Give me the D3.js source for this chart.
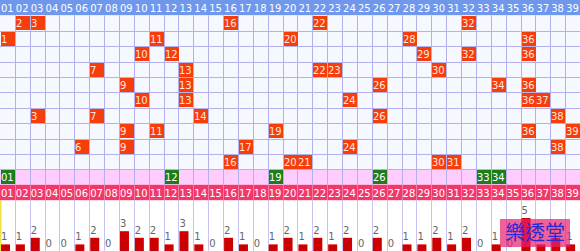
<!DOCTYPE html>
<html lang="zh-Hant">
<head>
<meta charset="utf-8">
<title>樂透堂 走勢圖</title>
<script src="https://d3js.org/d3.v7.min.js"></script>
<style>
  body { margin: 0; background: #fff; }
  svg { display: block; font-family: "DejaVu Sans", Verdana, sans-serif; }
</style>
</head>
<body>
<script>
// column labels 01..39
var labels = ["01","02","03","04","05","06","07","08","09","10","11","12","13",
  "14","15","16","17","18","19","20","21","22","23","24","25","26",
  "27","28","29","30","31","32","33","34","35","36","37","38","39"];

// each draw (one row of the grid)
var draws = [
  [2, 3, 16, 22, 32],
  [1, 11, 20, 28, 36],
  [10, 12, 29, 32, 36],
  [7, 13, 22, 23, 30],
  [9, 13, 26, 34, 36],
  [10, 13, 24, 36, 37],
  [3, 7, 14, 26, 38],
  [9, 11, 19, 36, 39],
  [6, 9, 17, 24, 38],
  [16, 20, 21, 30, 31]
];

// green row
var picks = [1, 12, 19, 26, 33, 34];

// counts under the bottom header
var counts = [1,1,2,0,0,1,2,0,3,2,2,1,3,1,0,2,1,0,1,2,1,2,1,2,0,2,0,1,1,2,1,2,0,1,0,5,1,2,1];

var w = 580, h = 251;
var rowH = 15.4;

var svg = d3.select("body").append("svg")
  .attr("width", w)
  .attr("height", h);

var x = d3.scaleBand()
  .domain(labels)
  .range([0, w]);
var cw = x.bandwidth();

// rows: header, 10 draws, pick row, bottom header
var rowKeys = ["head"].concat(draws.map(function(d, i) { return "d" + i; }), ["pick", "foot"]);
var y = d3.scaleBand()
  .domain(rowKeys)
  .range([0, rowH * rowKeys.length]);

var gridTop = y("d0"), gridBottom = y("pick") + y.bandwidth();
var barTop = y("foot") + y.bandwidth();

// bar scale
var yBar = d3.scaleLinear()
  .domain([0, 5])
  .range([h, h - 33]);

function lab(n) { return labels[n - 1]; }

// backgrounds
svg.append("rect").attr("x", 0).attr("y", y("head")).attr("width", w).attr("height", y.bandwidth())
  .attr("fill", "#6f98ec");
svg.append("rect").attr("x", 0).attr("y", gridTop).attr("width", w).attr("height", y("pick") - gridTop)
  .attr("fill", "#f6f8ff");
svg.append("rect").attr("x", 0).attr("y", y("pick")).attr("width", w).attr("height", y.bandwidth())
  .attr("fill", "#ffccff");
svg.append("rect").attr("x", 0).attr("y", y("foot")).attr("width", w).attr("height", y.bandwidth())
  .attr("fill", "#f2386a");

// grid lines
var grid = svg.append("g").attr("stroke", "#b4b0ea").attr("stroke-width", 1);
grid.selectAll("line.v")
  .data(labels.slice(1))
  .enter().append("line")
  .attr("x1", function(d) { return Math.round(x(d)) + 0.5; })
  .attr("x2", function(d) { return Math.round(x(d)) + 0.5; })
  .attr("y1", gridTop)
  .attr("y2", gridBottom);
grid.selectAll("line.h")
  .data(rowKeys.slice(2, 12))
  .enter().append("line")
  .attr("x1", 0).attr("x2", w)
  .attr("y1", function(d) { return Math.round(y(d)) + 0.5; })
  .attr("y2", function(d) { return Math.round(y(d)) + 0.5; });

// light separators in the bottom header and bar area
svg.append("g").attr("stroke", "#f47aa0").selectAll("line")
  .data(labels.slice(1))
  .enter().append("line")
  .attr("x1", function(d) { return Math.round(x(d)) + 0.5; })
  .attr("x2", function(d) { return Math.round(x(d)) + 0.5; })
  .attr("y1", y("foot")).attr("y2", barTop);
svg.append("g").attr("stroke", "#c8c4f2").selectAll("line")
  .data(labels.slice(1))
  .enter().append("line")
  .attr("x1", function(d) { return Math.round(x(d)) + 0.5; })
  .attr("x2", function(d) { return Math.round(x(d)) + 0.5; })
  .attr("y1", barTop).attr("y2", h);
svg.append("line").attr("x1", 0.75).attr("x2", 0.75).attr("y1", barTop).attr("y2", h)
  .attr("stroke", "#f2e040").attr("stroke-width", 1.5);

// header labels
function headerText(row, color) {
  svg.append("g").selectAll("text")
    .data(labels)
    .enter().append("text")
    .attr("x", function(d) { return x(d) + 1; })
    .attr("y", y(row) + y.bandwidth() / 2 + 4)
    .attr("font-size", 10)
    .attr("fill", color)
    .text(function(d) { return d; });
}
headerText("head", "#ffffff");
headerText("foot", "#ffffff");

// drawn number cells
var cells = [];
draws.forEach(function(row, i) {
  row.forEach(function(n) { cells.push({ row: "d" + i, n: n }); });
});
var cg = svg.append("g").selectAll("g")
  .data(cells)
  .enter().append("g")
  .attr("transform", function(d) { return "translate(" + (Math.round(x(lab(d.n))) + 1) + "," + (Math.round(y(d.row)) + 1) + ")"; });
cg.append("rect")
  .attr("width", Math.round(cw) - 1)
  .attr("height", Math.round(y.bandwidth()) - 1)
  .attr("fill", "#f63d0c");
cg.append("text")
  .attr("x", 0)
  .attr("y", y.bandwidth() / 2 + 3.5)
  .attr("font-size", 10)
  .attr("fill", "#ffe6dc")
  .text(function(d) { return String(d.n); });

// green picks
var pg = svg.append("g").selectAll("g")
  .data(picks)
  .enter().append("g")
  .attr("transform", function(d) { return "translate(" + (Math.round(x(lab(d))) + 1) + "," + (Math.round(y("pick")) + 1) + ")"; });
pg.append("rect")
  .attr("width", Math.round(cw) - 1)
  .attr("height", Math.round(y.bandwidth()) - 1)
  .attr("fill", "#1d7d1d");
pg.append("text")
  .attr("x", 0)
  .attr("y", y.bandwidth() / 2 + 3.5)
  .attr("font-size", 10)
  .attr("fill", "#ffffff")
  .text(function(d) { return lab(d); });

// bars
var bars = svg.append("g").selectAll("rect")
  .data(counts)
  .enter().append("rect")
  .attr("x", function(d, i) { return x(labels[i]) + 1; })
  .attr("y", function(d) { return yBar(d); })
  .attr("width", 9)
  .attr("height", function(d) { return h - yBar(d); })
  .attr("fill", "#cc0000");

svg.append("g").selectAll("text")
  .data(counts)
  .enter().append("text")
  .attr("x", function(d, i) { return x(labels[i]) + 1; })
  .attr("y", function(d) { return yBar(d) - 4; })
  .attr("font-size", 10)
  .attr("fill", "#666")
  .text(function(d) { return d; });

// watermark
svg.append("rect")
  .attr("x", 500).attr("y", 219).attr("width", 70).attr("height", 28)
  .attr("fill", "#e8206e").attr("fill-opacity", 0.7);
svg.append("text")
  .attr("x", 535).attr("y", 240)
  .attr("text-anchor", "middle")
  .attr("font-family", "'Noto Sans CJK TC', sans-serif")
  .attr("font-size", 20)
  .attr("fill", "#2a2ad0")
  .text("樂透堂");
</script>
</body>
</html>
